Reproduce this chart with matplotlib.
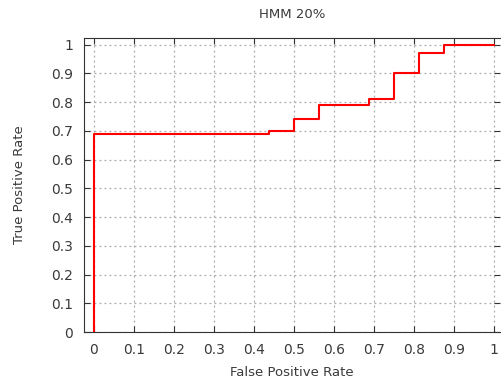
import matplotlib
matplotlib.use('Agg')
import matplotlib.pyplot as plt

# ROC curve points (step at each FPR threshold)
fpr = [0.0, 0.0, 0.4375, 0.5, 0.5625, 0.6875, 0.75, 0.8125, 0.875, 1.0]
tpr = [0.0, 0.69, 0.70, 0.74, 0.79, 0.81, 0.90, 0.97, 1.0, 1.0]

ticks = [0, 0.1, 0.2, 0.3, 0.4, 0.5, 0.6, 0.7, 0.8, 0.9, 1]
tick_labels = ['0', '0.1', '0.2', '0.3', '0.4', '0.5', '0.6', '0.7', '0.8', '0.9', '1']

fig = plt.figure(figsize=(5.01, 3.83), dpi=100)
ax = fig.add_axes([0.168, 0.133, 0.83, 0.768])

ax.step(fpr, tpr, where='post', color='red', linewidth=1.5)

ax.set_xlim(-0.024, 1.015)
ax.set_ylim(0, 1.023)
ax.set_xticks(ticks)
ax.set_xticklabels(tick_labels)
ax.set_yticks(ticks)
ax.set_yticklabels(tick_labels)

ax.grid(True, linestyle=(0, (1.5, 2.5)), color='#aaaaaa', linewidth=0.9)
ax.tick_params(direction='in', length=4, top=True, right=True,
               labelsize=10, labelcolor='#3a3a3a', color='#333333', pad=8)
for side in ['left', 'bottom', 'top']:
    ax.spines[side].set_color('#333333')
ax.spines['right'].set_visible(False)

ax.set_xlabel('False Positive Rate', fontsize=9.5, color='#3a3a3a', labelpad=6)
ax.set_ylabel('True Positive Rate', fontsize=9.5, color='#3a3a3a', labelpad=18)
fig.text(0.583, 0.962, 'HMM 20%', ha='center', va='center', fontsize=9.5, color='#3a3a3a')

fig.savefig('out.png', dpi=100)
